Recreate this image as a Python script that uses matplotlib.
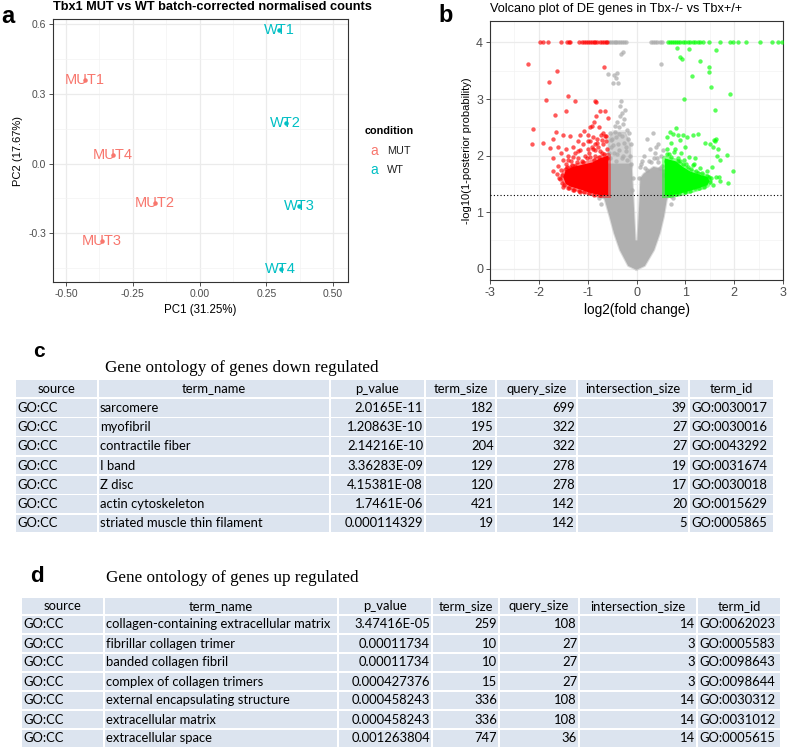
import matplotlib
matplotlib.use("Agg")
import matplotlib.pyplot as plt
from matplotlib.patches import Rectangle
from matplotlib import font_manager

plt.rcParams['font.family'] = ['Liberation Sans', 'DejaVu Sans']
plt.rcParams['axes.unicode_minus'] = False

# ---- panel a: PCA ----
samples = ['MUT1', 'MUT2', 'MUT3', 'MUT4', 'WT1', 'WT2', 'WT3', 'WT4']
pc1 = [-0.431, -0.166, -0.366, -0.325, 0.299, 0.323, 0.374, 0.304]
pc2 = [0.359, -0.171, -0.332, 0.035, 0.574, 0.173, -0.182, -0.455]
condition = ['MUT', 'MUT', 'MUT', 'MUT', 'WT', 'WT', 'WT', 'WT']
cond_colors = {'MUT': '#F8766D', 'WT': '#00BFC4'}

# ---- panel b: volcano ----
# genes capped at -log10 = 4
red_top_x = [-1.97, -1.91, -1.82, -1.54, -1.43, -1.39, -1.36, -1.17, -1.12, -1.08,
             -1.04, -1.0, -0.96, -0.92, -0.88, -0.84, -0.8, -0.75, -0.71, -0.67, -0.63, -0.6]
gray_top_x = [-0.57, -0.53, -0.49, -0.45, -0.41, -0.37, -0.33, -0.29, -0.25, -0.21,
              0.29, 0.33, 0.38, 0.43, 0.48, 0.53]
green_top_x = [0.64, 0.68, 0.72, 0.76, 0.8, 0.85, 0.9, 0.95, 1.0, 1.05, 1.1, 1.15, 1.2,
               1.25, 1.3, 1.37, 1.49, 1.71, 1.91, 1.98, 2.08, 2.25, 2.53, 2.77, 2.9, 2.98]
cap_y = 4.0

red_x = [-2.22, -1.62, -1.79, -0.66, -1.86, -1.40, -1.25, -0.84, -0.82, -1.66, -1.45, -0.74,
         -0.65, -0.59, -0.82, -0.87, -0.91, -0.95, -0.76, -2.12, -2.14, -1.91, -1.07, -1.64,
         -1.71, -1.50, -1.36, -1.16, -1.77, -1.60, -1.72, -1.0, -0.9, -0.72, -0.64, -1.2,
         -1.1, -0.95, -0.8, -0.68, -1.3, -1.45, -1.55, -1.4, -1.25, -1.15, -1.0, -0.85,
         -0.7, -0.62, -1.5, -1.35, -1.2, -1.05, -0.95, -1.6, -1.55, -1.62, -1.58, -1.53,
         -1.5, -1.4, -1.3, -1.15, -0.98, -0.88, -0.75, -1.7, -1.45, -1.1, -0.78, -0.6,
         -0.66, -0.74, -0.84, -0.92, -1.02, -0.7, -0.8, -0.9, -0.62, -0.76, -0.86, -0.97,
         -1.12, -1.22, -1.32, -1.42, -1.52, -1.56, -1.48, -1.38, -1.28, -1.18, -1.08,
         -1.3, -1.2, -1.4, -1.0, -0.68, -0.6, -0.72, -0.88, -1.25, -1.35, -1.45]
red_y = [3.62, 3.49, 3.31, 3.56, 2.99, 3.06, 2.97, 2.96, 2.95, 2.71, 2.79, 2.79,
         2.78, 2.66, 2.70, 2.60, 2.53, 2.50, 2.51, 2.47, 2.20, 2.22, 2.44, 2.41,
         2.30, 2.37, 2.35, 2.37, 2.13, 2.16, 1.95, 2.36, 2.33, 2.37, 2.35, 2.25,
         2.2, 2.25, 2.22, 2.2, 2.15, 2.12, 2.05, 2.0, 2.05, 2.1, 2.12, 2.1,
         2.05, 2.25, 1.92, 1.9, 1.95, 2.0, 1.98, 1.82, 1.75, 1.68, 1.6, 1.51,
         1.45, 1.42, 1.4, 1.36, 1.33, 1.31, 1.3, 1.72, 1.85, 1.88, 2.15, 2.12,
         2.02, 2.08, 2.0, 2.15, 1.96, 2.28, 2.3, 2.12, 2.35, 1.98, 2.2, 2.05,
         1.9, 1.88, 1.84, 1.8, 1.66, 1.58, 1.48, 1.42, 1.4, 1.37, 1.35,
         1.98, 2.08, 1.92, 2.26, 2.4, 1.95, 1.92, 1.92, 1.82, 1.78, 1.76]

green_x = [0.82, 1.08, 1.63, 0.89, 0.94, 1.31, 1.49, 1.49, 1.14, 1.52, 1.91, 0.97, 1.61,
           0.80, 0.68, 0.75, 0.62, 0.84, 0.96, 1.04, 1.16, 1.26, 0.89, 0.70, 0.63, 0.78,
           0.92, 1.0, 1.08, 0.66, 0.86, 1.2, 1.4, 1.50, 1.61, 1.56, 1.67, 1.63, 1.59,
           1.86, 1.71, 1.65, 1.98, 1.88, 1.49, 1.37, 1.55, 1.62, 1.7, 1.45, 1.3, 1.15,
           1.25, 1.68, 1.5, 1.4, 1.2, 1.0, 0.8, 1.02, 0.9,
           0.62, 0.7, 0.76, 0.84, 0.95, 1.05, 1.12, 1.22, 1.34, 1.44, 1.52, 1.56,
           0.66, 0.73, 0.88, 1.0, 1.1, 1.28, 1.38, 0.6, 0.98, 1.18]
green_y = [3.90, 3.88, 3.86, 3.74, 3.71, 3.68, 3.56, 3.47, 3.40, 3.22, 3.09, 3.00, 2.81,
           2.48, 2.42, 2.38, 2.33, 2.36, 2.37, 2.33, 2.36, 2.39, 2.28, 2.22, 2.12, 2.12,
           2.05, 2.15, 1.98, 2.02, 1.96, 1.96, 2.22, 2.20, 2.25, 2.15, 2.11, 2.30, 2.27,
           2.01, 1.92, 2.0, 1.73, 1.52, 1.63, 1.63, 1.8, 1.62, 1.55, 1.72, 1.78, 1.84,
           1.7, 1.63, 1.53, 1.5, 1.42, 1.37, 1.32, 1.85, 1.9,
           2.02, 1.98, 2.06, 1.9, 1.86, 1.8, 1.76, 1.72, 1.69, 1.64, 1.6, 1.48,
           1.3, 1.32, 1.33, 1.35, 1.38, 1.42, 1.45, 1.9, 1.93, 1.85]

gray_x = [-0.27, -0.31, -0.58, -0.46, -0.39, -0.42, -0.49, -0.37, -0.32, -0.34, -0.24, -0.3,
          -0.4, -0.28, -0.2, -0.35, -0.45, -0.55, -0.5, -0.42, -0.3, -0.18, -0.12, -0.25,
          -0.38, -0.52, -0.46, -0.35, -0.22, -0.14, -0.3, -0.55, -0.42, -0.12, 0.51, 0.34,
          0.21, 0.45, 0.4, 0.28, 0.55, 0.15, 0.5, 0.35, 0.25, 0.08, 0.45, -0.1, 0.06, -0.7, 0.7,
          -0.26, -0.33, -0.44, -0.52, -0.16, -0.22, -0.36, -0.48, -0.56, -0.28, -0.4,
          -0.2, -0.08, 0.1, 0.18, 0.3, 0.42, 0.52, 0.57, 0.12, 0.22, 0.38, 0.48,
          -0.76, -0.72, 0.74, 0.71, -0.62, 0.64]
gray_y = [3.84, 3.80, 3.45, 3.43, 3.46, 3.37, 3.29, 3.29, 2.96, 2.87, 2.81, 2.75,
          2.6, 2.55, 2.45, 2.5, 2.42, 2.4, 2.3, 2.32, 2.35, 2.3, 2.2, 2.22,
          2.2, 2.15, 2.05, 2.1, 2.08, 2.0, 1.95, 1.95, 1.9, 1.85, 3.62, 2.40,
          2.29, 2.2, 2.15, 2.12, 2.1, 2.0, 2.0, 1.95, 1.9, 1.8, 1.88, 1.4, 1.6, 1.28, 1.28,
          2.65, 2.7, 2.52, 2.28, 2.4, 2.15, 2.38, 2.18, 2.05, 2.0, 2.02,
          1.92, 1.6, 1.85, 1.78, 1.88, 1.95, 1.82, 1.66, 1.9, 1.74, 2.05, 1.78,
          1.25, 1.15, 1.25, 1.15, 1.32, 1.32]

# outlines of the densely packed clouds
gray_core_x = [0.0, -0.17, -0.34, -0.46, -0.55, -0.65, -0.72, -0.58, -0.58, -0.1, -0.06, -0.02,
               0.02, 0.06, 0.08, 0.15, 0.35, 0.58, 0.58, 0.68, 0.62, 0.56, 0.48, 0.36, 0.17]
gray_core_y = [-0.02, 0.05, 0.33, 0.63, 0.92, 1.22, 1.32, 1.32, 1.85, 1.85, 1.2, 0.5,
               0.5, 1.2, 1.6, 1.68, 1.8, 1.75, 1.32, 1.32, 1.22, 0.92, 0.63, 0.33, 0.05]
gray_upper_x = [-0.58, -0.58, -0.48, -0.22, -0.12, -0.1]
gray_upper_y = [1.8, 2.3, 2.42, 2.42, 2.2, 1.8]
red_core_x = [-0.58, -0.75, -0.95, -1.15, -1.35, -1.45, -1.5, -1.45, -1.3, -1.1, -0.9, -0.75, -0.58]
red_core_y = [1.3, 1.3, 1.34, 1.4, 1.45, 1.5, 1.62, 1.74, 1.8, 1.84, 1.88, 1.95, 2.0]
green_core_x = [0.58, 0.7, 0.9, 1.1, 1.3, 1.45, 1.5, 1.45, 1.3, 1.1, 0.95, 0.8, 0.58]
green_core_y = [1.3, 1.3, 1.33, 1.38, 1.43, 1.48, 1.55, 1.62, 1.66, 1.72, 1.8, 1.9, 1.95]
sig_line = 1.3

# ---- panels c, d: tables ----
headers = ['source', 'term_name', 'p_value', 'term_size', 'query_size', 'intersection_size', 'term_id']
aligns = ['left', 'left', 'right', 'right', 'right', 'right', 'left']

down_source = ['GO:CC'] * 7
down_term = ['sarcomere', 'myofibril', 'contractile fiber', 'I band', 'Z disc',
             'actin cytoskeleton', 'striated muscle thin filament']
down_p = ['2.0165E-11', '1.20863E-10', '2.14216E-10', '3.36283E-09', '4.15381E-08',
          '1.7461E-06', '0.000114329']
down_term_size = [182, 195, 204, 129, 120, 421, 19]
down_query = [699, 322, 322, 278, 278, 142, 142]
down_inter = [39, 27, 27, 19, 17, 20, 5]
down_id = ['GO:0030017', 'GO:0030016', 'GO:0043292', 'GO:0031674', 'GO:0030018',
           'GO:0015629', 'GO:0005865']

up_source = ['GO:CC'] * 7
up_term = ['collagen-containing extracellular matrix', 'fibrillar collagen trimer',
           'banded collagen fibril', 'complex of collagen trimers',
           'external encapsulating structure', 'extracellular matrix', 'extracellular space']
up_p = ['3.47416E-05', '0.00011734', '0.00011734', '0.000427376', '0.000458243',
        '0.000458243', '0.001263804']
up_term_size = [259, 10, 10, 15, 336, 336, 747]
up_query = [108, 27, 27, 27, 108, 108, 36]
up_inter = [14, 3, 3, 3, 14, 14, 14]
up_id = ['GO:0062023', 'GO:0005583', 'GO:0098643', 'GO:0098644', 'GO:0030312',
         'GO:0031012', 'GO:0005615']

W, H = 789, 753
fig = plt.figure(figsize=(W / 100, H / 100), dpi=100)
ov = fig.add_axes([0, 0, 1, 1])
ov.set_xlim(0, W)
ov.set_ylim(H, 0)
ov.axis('off')


def theme_bw(ax, xmaj, xmin, ymaj, ymin, xlab, ylab, fs):
    ax.set_xticks(xmaj)
    ax.set_xticks(xmin, minor=True)
    ax.set_yticks(ymaj)
    ax.set_yticks(ymin, minor=True)
    ax.set_xticklabels(xlab)
    ax.set_yticklabels(ylab)
    ax.grid(which='major', color='#EBEBEB', lw=0.9)
    ax.grid(which='minor', color='#F3F3F3', lw=0.5)
    ax.set_axisbelow(True)
    for s in ax.spines.values():
        s.set_color('#333333')
        s.set_linewidth(0.8)
    ax.tick_params(which='minor', length=0)
    ax.tick_params(which='major', length=3, width=0.6, color='#333333',
                   labelcolor='#4D4D4D', labelsize=fs, pad=2)


# panel a
axa = fig.add_axes([53 / W, 1 - 282 / H, 295 / W, 263 / H])
axa.set_xlim(-0.549, 0.556)
axa.set_ylim(-0.509, 0.621)
theme_bw(axa, [-0.5, -0.25, 0, 0.25, 0.5], [-0.375, -0.125, 0.125, 0.375],
         [-0.3, 0, 0.3, 0.6], [-0.45, -0.15, 0.15, 0.45],
         ['-0.50', '-0.25', '0.00', '0.25', '0.50'], ['-0.3', '0.0', '0.3', '0.6'], 7.5)
for name, x, y, c in zip(samples, pc1, pc2, condition):
    axa.scatter(x, y, s=5, color=cond_colors[c], zorder=3)
    axa.text(x, y, name, color=cond_colors[c], fontsize=10.5, ha='center', va='center', zorder=4)
axa.set_xlabel('PC1 (31.25%)', fontsize=8.3, labelpad=4)
axa.set_ylabel('PC2 (17.67%)', fontsize=8, labelpad=4)

ov.text(53, 7, 'Tbx1 MUT vs WT batch-corrected normalised counts', fontsize=9.2,
        fontweight='bold', va='center', ha='left')
ov.text(1, 16, 'a', fontsize=17, fontweight='bold', va='center', ha='left')

# legend
ov.text(365, 131, 'condition', fontsize=7.8, fontweight='bold', va='center')
for yy, c in [(151, 'MUT'), (170, 'WT')]:
    ov.text(374, yy, 'a', color=cond_colors[c], fontsize=10, ha='center', va='center')
    ov.text(387, yy, c, fontsize=7.8, va='center', color='#222222')

# panel b
axb = fig.add_axes([490 / W, 1 - 280 / H, 293 / W, 259 / H])
axb.set_xlim(-3, 3)
axb.set_ylim(-0.2, 4.38)
theme_bw(axb, [-3, -2, -1, 0, 1, 2, 3], [-2.5, -1.5, -0.5, 0.5, 1.5, 2.5],
         [0, 1, 2, 3, 4], [0.5, 1.5, 2.5, 3.5],
         ['-3', '-2', '-1', '0', '1', '2', '3'], ['0', '1', '2', '3', '4'], 9)
gray_c, red_c, green_c = '#A9A9A9', '#FF0000', '#00FF00'


def cloud(ax, xs, ys, color, alpha, z, edge=2.5):
    ax.fill(xs, ys, color=color, alpha=alpha, lw=0, zorder=z)
    ax.plot(list(xs) + [xs[0]], list(ys) + [ys[0]], color=color, alpha=0.45 * alpha,
            lw=edge, solid_joinstyle='round', zorder=z)


cloud(axb, gray_core_x, gray_core_y, '#B0B0B0', 1.0, 2, edge=1.5)
cloud(axb, gray_upper_x, gray_upper_y, '#B0B0B0', 0.55, 2)
axb.scatter(gray_x, gray_y, s=10, color=gray_c, alpha=0.7, lw=0, zorder=2)
axb.scatter(gray_top_x, [cap_y] * len(gray_top_x), s=10, color=gray_c, alpha=0.7, lw=0, zorder=2)
cloud(axb, red_core_x, red_core_y, red_c, 1.0, 3, edge=4)
axb.scatter(red_x, red_y, s=10, color=red_c, alpha=0.65, lw=0, zorder=3)
axb.scatter(red_top_x, [cap_y] * len(red_top_x), s=10, color=red_c, alpha=0.65, lw=0, zorder=3)
cloud(axb, green_core_x, green_core_y, green_c, 1.0, 3, edge=4)
axb.scatter(green_x, green_y, s=10, color=green_c, alpha=0.65, lw=0, zorder=3)
axb.scatter(green_top_x, [cap_y] * len(green_top_x), s=10, color=green_c, alpha=0.65, lw=0, zorder=3)
axb.axhline(sig_line, color='black', ls=(0, (1, 2)), lw=0.8, zorder=4)
axb.set_xlabel('log2(fold change)', fontsize=9.8, labelpad=3)
axb.set_ylabel('-log10(1-posterior probability)', fontsize=8, labelpad=3)

ov.text(490, 9, 'Volcano plot of DE genes in Tbx-/- vs Tbx+/+', fontsize=9.2,
        va='center', ha='left')
ov.text(438, 15, 'b', fontsize=17, fontweight='bold', va='center', ha='left')

# tables
try:
    font_manager.findfont('Liberation Sans Narrow', fallback_to_default=False)
    TF = 'Liberation Sans Narrow'
    TFS = 10
except ValueError:
    TF = 'Lato'
    TFS = 9.4
CELL = '#DCE4EF'


def draw_table(cols, bounds, top, head_h, row_h, columns):
    nrows = len(columns[0])
    ys = [top, top + head_h] + [top + head_h + row_h * (k + 1) for k in range(nrows)]
    for r in range(nrows + 1):
        y0, y1 = ys[r], ys[r + 1]
        for c in range(len(cols)):
            x0, x1 = bounds[c], bounds[c + 1]
            ov.add_patch(Rectangle((x0 + 0.8, y0 + 0.8), x1 - x0 - 1.6, y1 - y0 - 1.6,
                                   fc=CELL, ec='none'))
            ym = (y0 + y1) / 2
            if r == 0:
                ov.text((x0 + x1) / 2, ym, cols[c], family=TF, fontsize=TFS,
                        ha='center', va='center')
            else:
                val = str(columns[c][r - 1])
                if aligns[c] == 'left':
                    ov.text(x0 + 2, ym, val, family=TF, fontsize=TFS, ha='left', va='center')
                else:
                    ov.text(x1 - 2, ym, val, family=TF, fontsize=TFS, ha='right', va='center')


draw_table(headers, [15, 98, 330, 425, 496, 577, 689, 774], 379, 19, 19.3,
           [down_source, down_term, down_p, down_term_size, down_query, down_inter, down_id])
draw_table(headers, [21, 104, 338, 432, 499, 579, 697, 781], 597, 18, 19,
           [up_source, up_term, up_p, up_term_size, up_query, up_inter, up_id])

ov.text(33, 351, 'c', fontsize=15, fontweight='bold', va='center', ha='left')
ov.text(105, 368, 'Gene ontology of genes down regulated', family='Liberation Serif',
        fontsize=12.3, va='center', ha='left')
ov.text(30, 576, 'd', fontsize=16, fontweight='bold', va='center', ha='left')
ov.text(106, 578, 'Gene ontology of genes up regulated', family='Liberation Serif',
        fontsize=12.3, va='center', ha='left')

fig.savefig('out.png', dpi=100)
